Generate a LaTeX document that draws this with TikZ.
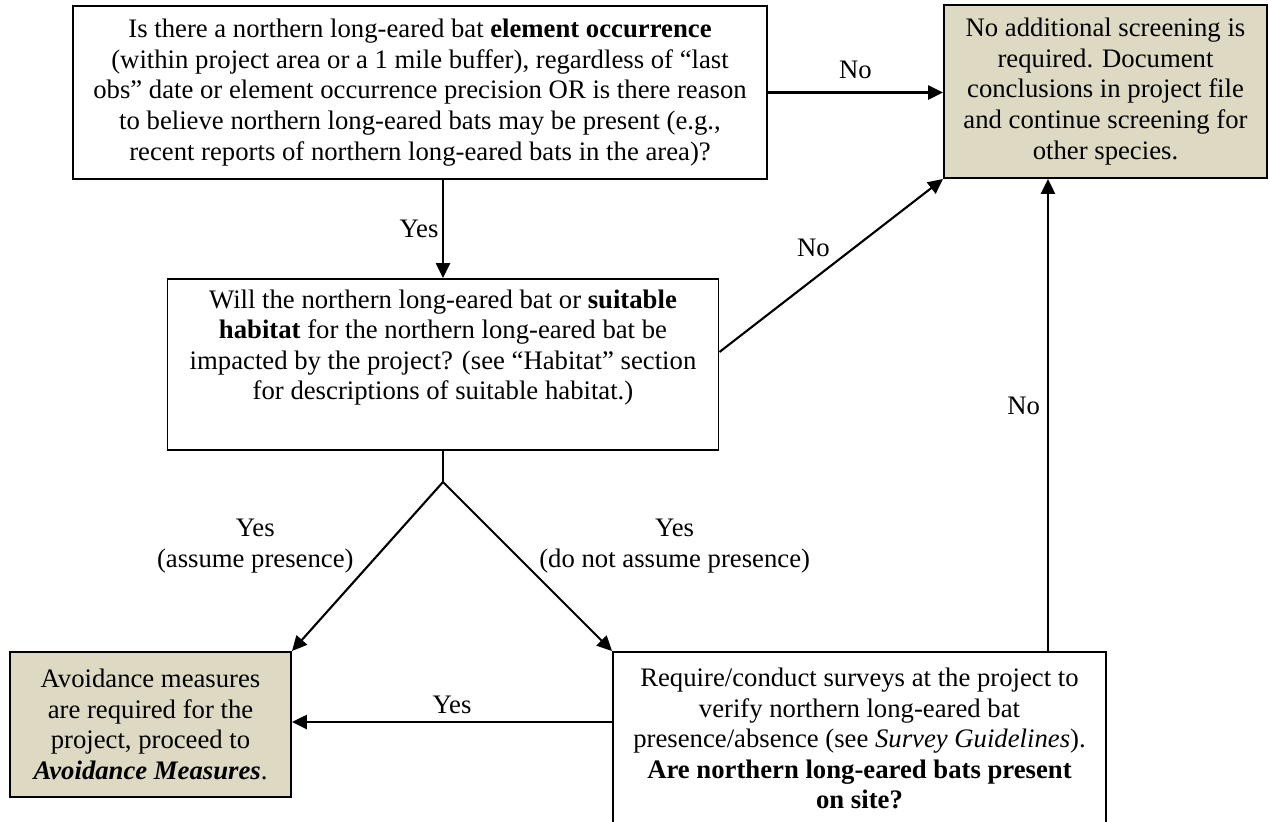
\documentclass[tikz,border=0pt]{standalone}
\usepackage{fontspec}
\setmainfont{Liberation Serif}
\usetikzlibrary{positioning}
\usetikzlibrary{arrows.meta}
\definecolor{tan}{HTML}{DDD9C3}

\begin{document}
\begin{tikzpicture}[
	box/.style={draw, rectangle, line width=1.1pt, align=center, inner sep=0pt, font=\fontsize{15.2pt}{17.4pt}\selectfont},
	endbox/.style={box, fill=tan},
	answer/.style={align=center, inner sep=2pt, font=\fontsize{15.2pt}{17.4pt}\selectfont},
	arrow/.style={-{Triangle[length=8.5pt, width=8pt]}, line width=1.2pt}
	]
	\useasboundingbox (0,0) rectangle (25.4,-16.42);
	
	% Questions
	\node[box, minimum width=13.88cm, minimum height=3.46cm] (q1) at (8.40,-1.85) {Is there a northern long-eared bat \textbf{element occurrence}\\
		(within project area or a 1 mile buffer), regardless of “last\\
		obs” date or element occurrence precision OR is there reason\\
		to believe northern long-eared bats may be present (e.g.,\\
		recent reports of northern long-eared bats in the area)?};
	\node[box, minimum width=11.02cm, minimum height=3.42cm] (q2) at (8.86,-7.29) {Will the northern long-eared bat or \textbf{suitable}\\
		\textbf{habitat} for the northern long-eared bat be\\
		impacted by the project? (see “Habitat” section\\
		for descriptions of suitable habitat.)\\ \strut};
	\node[box, minimum width=9.86cm, minimum height=3.46cm] (survey) at (17.19,-14.77) {Require/conduct surveys at the project to\\
		verify northern long-eared bat\\
		presence/absence (see \textit{Survey Guidelines}).\\
		\textbf{Are northern long-eared bats present}\\
		\textbf{on site?}};
	
	% Outcomes
	\node[endbox, minimum width=6.46cm, minimum height=3.46cm] (done) at (22.11,-1.83) {No additional screening is\\
		required. Document\\
		conclusions in project file\\
		and continue screening for\\
		other species.};
	\node[endbox, minimum width=5.62cm, minimum height=2.9cm] (avoid) at (3.01,-14.49) {Avoidance measures\\
		are required for the\\
		project, proceed to\\
		\textbf{\textit{Avoidance Measures}}.};
	
	% Connections
	\coordinate (fork) at (8.86,-9.64);
	\draw[arrow] (q1.east) -- (q1.east -| done.west) node[midway, above=5pt, answer] {No};
	\draw[arrow] (q2.north |- q1.south) -- (q2.north) node[midway, left, answer] {Yes};
	\draw[arrow] ([yshift=0.25cm]q2.east) -- (done.south west) node[pos=0.42, yshift=0.62cm, answer] {No};
	\draw[line width=1.2pt] (q2.south) -- (fork);
	\draw[arrow] (fork) -- (avoid.north east) node[pos=0.38, left=0.55cm, answer] {Yes\\(assume presence)};
	\draw[arrow] (fork) -- (survey.north west) node[pos=0.38, right=0.55cm, answer] {Yes\\(do not assume presence)};
	\draw[arrow] ([yshift=0.33cm]survey.west) -- ([yshift=0.33cm]survey.west -| avoid.east) node[midway, above=2pt, answer] {Yes};
	\draw[arrow] ([xshift=-1.18cm]survey.north east) -- ([xshift=-1.18cm]survey.north east |- done.south) node[pos=0.52, left=2pt, answer] {No};
\end{tikzpicture}
\end{document}
